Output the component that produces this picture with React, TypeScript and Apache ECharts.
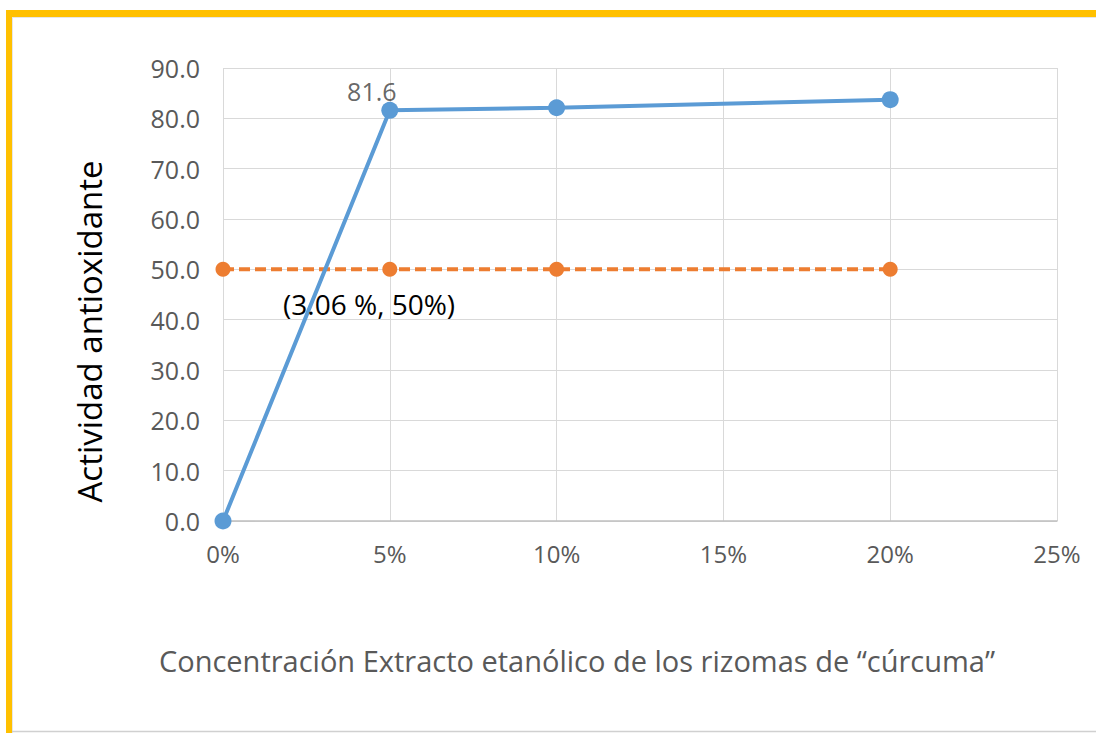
import React, { useEffect, useRef } from "react";
import * as echarts from "echarts";

const concentrations = [0, 0.05, 0.1, 0.2];
const activity = [0, 81.6, 82.1, 83.7];
const reference50 = [50, 50, 50, 50];
const ic50Point = [0.0306, 50];
const yAxisName = "Actividad antioxidante";
const xAxisName = "Concentración Extracto etanólico de los rizomas de “cúrcuma”";
const ic50Label = "(3.06 %, 50%)";

const FONT = "'Open Sans', 'Noto Sans', sans-serif";

export default function App() {
  const ref = useRef<HTMLDivElement>(null);
  useEffect(() => {
    if (!ref.current) return;
    const chart = echarts.init(ref.current, null, { renderer: "svg" });
    chart.setOption({
      animation: false,
      backgroundColor: "#ffffff",
      textStyle: { fontFamily: FONT },
      grid: { left: 223, right: 39, top: 68, bottom: 212, containLabel: false },
      xAxis: {
        type: "value",
        min: 0,
        max: 0.25,
        interval: 0.05,
        name: xAxisName,
        nameLocation: "middle",
        nameGap: 125,
        nameTextStyle: { fontSize: 29, color: "#595959", fontFamily: FONT, padding: [0, 126, 0, 0] },
        axisLine: { show: true, lineStyle: { color: "#bfbfbf", width: 1.5 } },
        axisTick: { show: false },
        axisLabel: {
          margin: 20,
          fontSize: 24,
          color: "#595959",
          formatter: (v: number) => Math.round(v * 100) + "%",
        },
        splitLine: { show: true, lineStyle: { color: "#d9d9d9", width: 1 } },
      },
      yAxis: {
        type: "value",
        min: 0,
        max: 90,
        interval: 10,
        name: yAxisName,
        nameLocation: "middle",
        nameGap: 117,
        nameRotate: 90,
        nameTextStyle: { fontSize: 33, color: "#000000", fontFamily: FONT, padding: [0, 74, 0, 0] },
        axisLine: { show: false },
        axisTick: { show: false },
        axisLabel: {
          margin: 23,
          fontSize: 25,
          color: "#595959",
          formatter: (v: number) => v.toFixed(1),
        },
        splitLine: { show: true, lineStyle: { color: "#d9d9d9", width: 1 } },
      },
      series: [
        {
          type: "line",
          data: concentrations.map((c, i) => [c, activity[i]]),
          symbol: "circle",
          symbolSize: 17,
          itemStyle: { color: "#5b9bd5" },
          lineStyle: { color: "#5b9bd5", width: 4 },
          z: 3,
          label: { show: false },
          emphasis: { disabled: true },
        },
        {
          type: "line",
          data: concentrations.map((c, i) => [c, reference50[i]]),
          symbol: "circle",
          symbolSize: 15,
          itemStyle: { color: "#ed7d31" },
          lineStyle: { color: "#ed7d31", width: 4, type: [11, 5] },
          z: 2,
          emphasis: { disabled: true },
          markPoint: {
            symbol: "circle",
            symbolSize: 0,
            silent: true,
            data: [
              {
                coord: ic50Point,
                label: {
                  show: true,
                  formatter: ic50Label,
                  position: "inside",
                  offset: [44, 35],
                  fontSize: 28,
                  color: "#000000",
                  fontFamily: FONT,
                },
              },
            ],
          },
        },
        {
          type: "scatter",
          data: [[concentrations[1], activity[1]]],
          symbolSize: 0,
          silent: true,
          label: {
            show: true,
            position: "top",
            offset: [-18, -2],
            formatter: (p: any) => p.value[1].toFixed(1),
            fontSize: 25,
            color: "#404040",
            fontFamily: FONT,
          },
          z: 4,
        },
      ],
      graphic: [
        { type: "rect", shape: { x: 6, y: 10, width: 1090, height: 7 }, style: { fill: "#ffc000" }, silent: true },
        { type: "rect", shape: { x: 6, y: 10, width: 6, height: 723 }, style: { fill: "#ffc000" }, silent: true },
        { type: "line", shape: { x1: 12, y1: 17.5, x2: 1096, y2: 17.5 }, style: { stroke: "#e6e6e6", lineWidth: 1 }, silent: true },
        { type: "line", shape: { x1: 12.5, y1: 17, x2: 12.5, y2: 733 }, style: { stroke: "#e6e6e6", lineWidth: 1 }, silent: true },
        { type: "line", shape: { x1: 12, y1: 731.5, x2: 1096, y2: 731.5 }, style: { stroke: "#d0d0d0", lineWidth: 1.5 }, silent: true },
      ],
    });
    return () => chart.dispose();
  }, []);
  return (
    <div
      ref={ref}
      style={{ position: "fixed", left: 0, top: 0, width: 1096, height: 733 }}
    />
  );
}
